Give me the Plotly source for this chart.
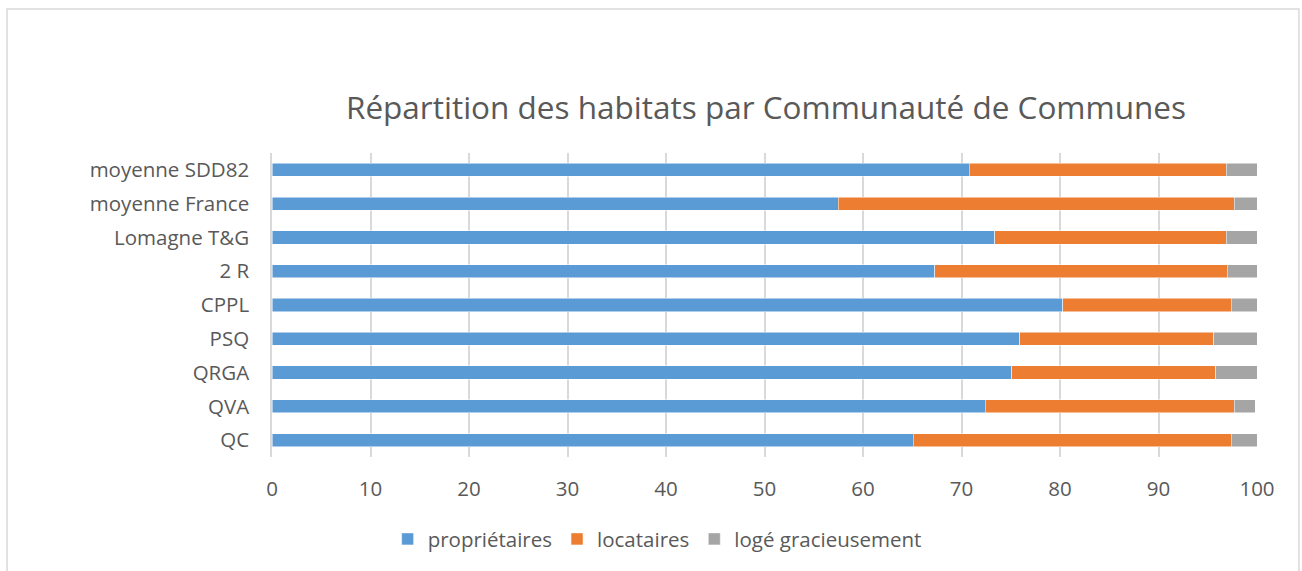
import plotly.graph_objects as go

# Données (en %), de bas en haut
categories = ["QC", "QVA", "QRGA", "PSQ", "CPPL", "2 R", "Lomagne T&G",
              "moyenne France", "moyenne SDD82"]
proprietaires = [65.1, 72.4, 75.1, 75.9, 80.3, 67.3, 73.4, 57.5, 70.8]
locataires = [32.3, 25.3, 20.7, 19.7, 17.1, 29.7, 23.5, 40.2, 26.1]
loge_gracieusement = [2.6, 2.1, 4.2, 4.4, 2.6, 3.0, 3.1, 2.3, 3.1]
x_ticks = [0, 10, 20, 30, 40, 50, 60, 70, 80, 90, 100]

COULEURS = {
    "propriétaires": "#5B9BD5",
    "locataires": "#ED7D31",
    "logé gracieusement": "#A5A5A5",
}
TEXTE = "#595959"
GRILLE = "#D9D9D9"
POLICE = "Open Sans"

fig = go.Figure()

for nom, valeurs in [("propriétaires", proprietaires),
                     ("locataires", locataires),
                     ("logé gracieusement", loge_gracieusement)]:
    fig.add_trace(go.Bar(
        y=categories,
        x=valeurs,
        name=nom,
        orientation="h",
        marker=dict(color=COULEURS[nom], line=dict(color="white", width=0.5)),
    ))

# cadre du graphique (style Excel)
fig.add_shape(
    type="rect", xref="paper", yref="paper",
    x0=-0.269, x1=1.0426, y0=-0.45, y1=1.4737,
    line=dict(color=GRILLE, width=1.5), fillcolor="rgba(0,0,0,0)",
    layer="below",
)

fig.update_layout(
    barmode="stack",
    bargap=0.61,
    width=1302, height=571,
    paper_bgcolor="white",
    plot_bgcolor="white",
    font=dict(family=POLICE, color=TEXTE, size=20.5),
    title=dict(
        text="Répartition des habitats par Communauté de Communes",
        font=dict(family=POLICE, color=TEXTE, size=31.5),
        x=766 / 1302, xref="container", xanchor="center",
        y=1 - 108 / 571, yref="container", yanchor="middle",
    ),
    xaxis=dict(
        range=[0, 100],
        tickvals=x_ticks,
        showgrid=True, gridcolor=GRILLE, gridwidth=1.5,
        zeroline=False, showline=False,
        ticks="", ticklabelstandoff=17,
        tickfont=dict(size=20.5, color=TEXTE),
    ),
    yaxis=dict(
        range=[-0.5, 8.5],
        showgrid=False, zeroline=False,
        showline=True, linecolor=GRILLE, linewidth=1.5,
        ticks="", ticklabelstandoff=17,
        tickfont=dict(size=20.5, color=TEXTE),
    ),
    legend=dict(
        orientation="h",
        x=0.391, xanchor="center",
        y=-0.27, yanchor="middle",
        font=dict(size=20.5, color=TEXTE),
        traceorder="normal",
        itemwidth=30,
    ),
    margin=dict(l=272, r=45, t=153, b=114),
)

# pas de marge de page autour de la figure, pas de barre d'outils
fig.write_html(
    "out.html",
    config={"displayModeBar": False},
    post_script="document.body.style.margin = '0';",
)
